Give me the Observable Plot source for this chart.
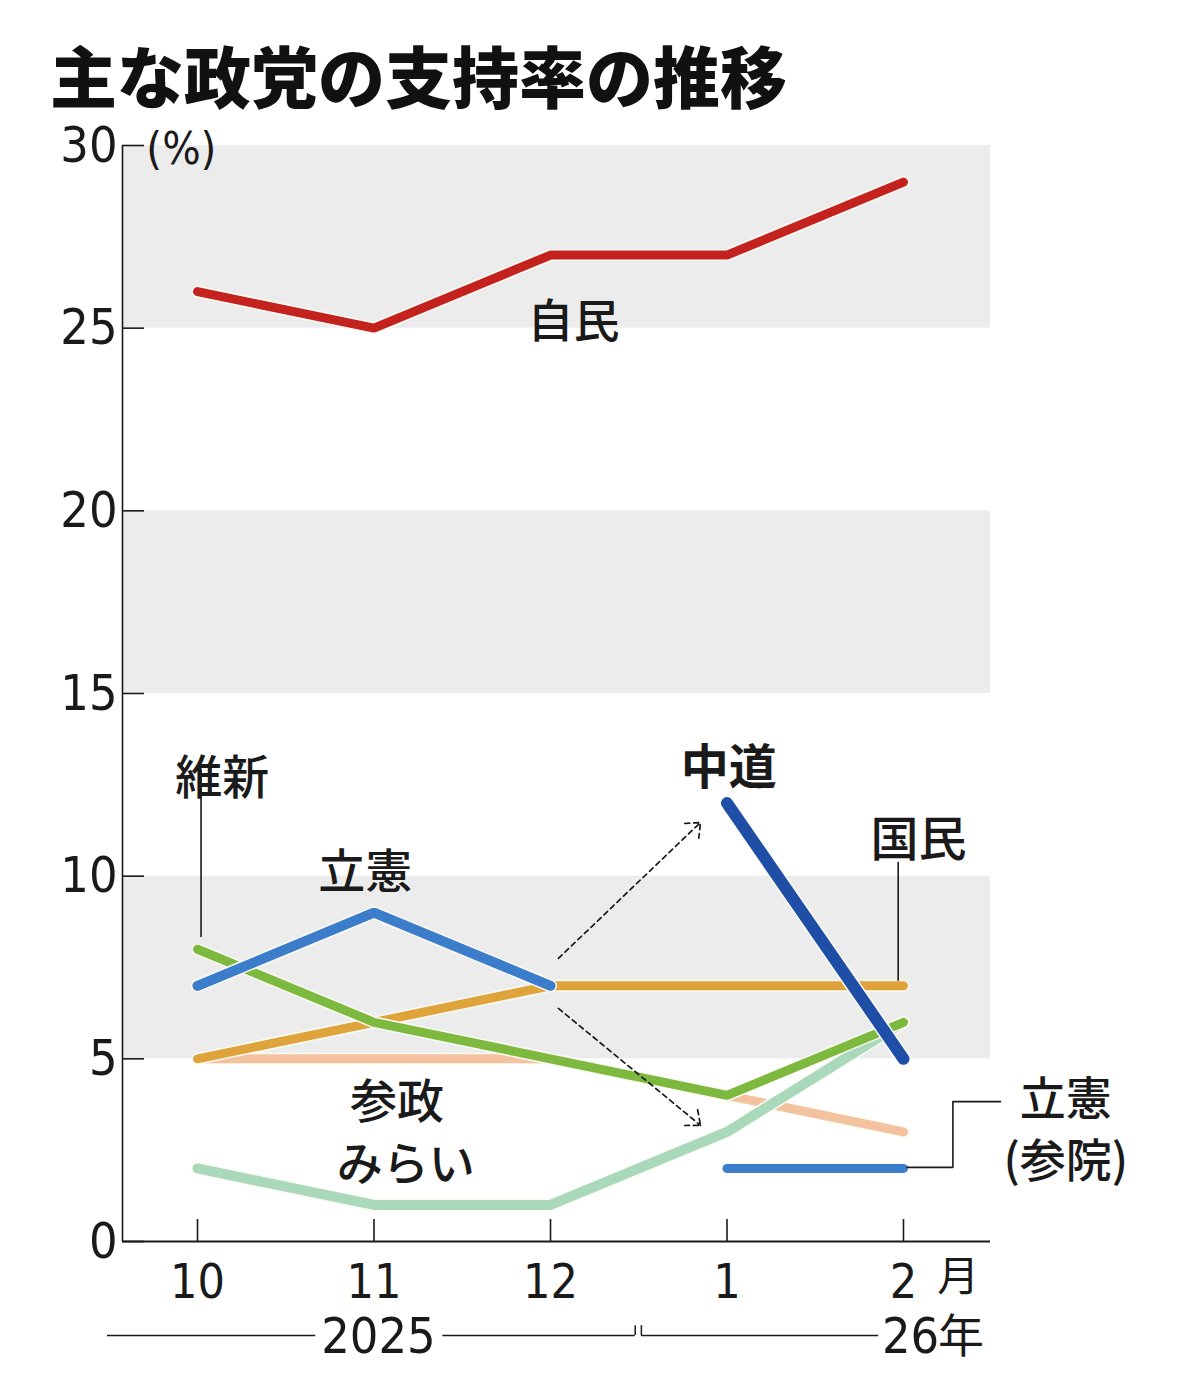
<!DOCTYPE html>
<html><head><meta charset="utf-8">
<script src="https://cdn.jsdelivr.net/npm/d3@7"></script>
<script src="https://cdn.jsdelivr.net/npm/@observablehq/plot@0.6"></script>
<style>
html,body{margin:0;padding:0;background:#fff;}
#wrap{position:relative;width:1200px;height:1396px;overflow:hidden;}
#title{position:absolute;left:50px;top:44px;font-family:"Noto Sans CJK JP",sans-serif;font-weight:900;font-size:67px;line-height:60px;height:60px;color:#111;white-space:nowrap;}
#chart{position:absolute;left:0;top:120px;}
</style></head>
<body><div id="wrap"><div id="title">主な政党の支持率の推移</div><div id="chart"></div></div>
<script>
// ---- data ----
const months = ["10", "11", "12", "1", "2"];
const jimin = [26, 25, 27, 27, 29];        // 自民
const kokumin = [5, 6, 7, 7, 7];           // 国民
const ishin = [8, 6, 5, 4, 6];             // 維新
const rikken = [7, 9, 7, null, null];      // 立憲
const sansei = [5, 5, 5, 4, 3];            // 参政
const mirai = [2, 1, 1, 3, 6];             // みらい
const chudo = [null, null, null, 12, 5];   // 中道
const rikkenSan = [null, null, null, 2, 2];// 立憲(参院)
const yTicks = [0, 5, 10, 15, 20, 25, 30];
const bandLo = [5, 15, 25];
const bandHi = [10, 20, 30];

// ---- build tables ----
const seriesDefs = [
  {name: "参政", values: sansei, color: "#f3c39f", w: 9},
  {name: "みらい", values: mirai, color: "#a9d8bb", w: 10},
  {name: "国民", values: kokumin, color: "#dea33a", w: 9},
  {name: "維新", values: ishin, color: "#7db83f", w: 9},
  {name: "立憲", values: rikken, color: "#3b7ccb", w: 10},
  {name: "自民", values: jimin, color: "#c3221f", w: 9},
  {name: "立憲(参院)", values: rikkenSan, color: "#3b7ccb", w: 9},
  {name: "中道", values: chudo, color: "#1f4ea6", w: 12}
];
const bands = bandLo.map((lo, i) => ({lo, hi: bandHi[i]}));

const labels = [
  {text: "自民", x: 2.13, y: 25.15, w: 500, s: 46},
  {text: "維新", x: 0.14, y: 12.67, w: 500, s: 47},
  {text: "立憲", x: 0.95, y: 10.1, w: 500, s: 47},
  {text: "中道", x: 3.01, y: 12.95, w: 700, s: 48},
  {text: "国民", x: 4.085, y: 10.98, w: 500, s: 48},
  {text: "参政", x: 1.13, y: 3.78, w: 500, s: 47},
  {text: "みらい", x: 1.18, y: 2.1, w: 500, s: 46},
  {text: "立憲", x: 4.92, y: 3.86, w: 500, s: 46},
  {text: "(参院)", x: 4.92, y: 2.16, w: 500, s: 46}
];
const leaders = [
  {id: "ishin", x: 0.02, y: 8.35}, {id: "ishin", x: 0.02, y: 12.9},
  {id: "kokumin", x: 3.97, y: 7.15}, {id: "kokumin", x: 3.97, y: 10.37},
  {id: "san", x: 4.02, y: 2.03}, {id: "san", x: 4.28, y: 2.03},
  {id: "san", x: 4.28, y: 3.83}, {id: "san", x: 4.55, y: 3.83}
];
const arrows = [
  {x1: 2.045, y1: 7.75, x2: 2.85, y2: 11.47},
  {x1: 2.045, y1: 6.38, x2: 2.85, y2: 3.18}
];
const yearSegs = [{x1: -0.51, x2: 0.67}, {x1: 1.39, x2: 2.48}, {x1: 2.515, x2: 3.86}];
const yearSeps = [2.48, 2.515];
const yearMid = [{text: "2025", x: 1.025}];
const yearEnd = [{text: "26", x: 4.04}];
const yearUnit = [{text: "年", x: 4.195}];

const xmin = -0.425, xmax = 4.493;
const numFont = "'Liberation Sans Narrow','DejaVu Sans Condensed','Arial Narrow','Noto Sans CJK JP',sans-serif";
const jpFont = "'Noto Sans CJK JP',sans-serif";
const ink = "#1a1a1a";

const marks = [];
marks.push(Plot.rect(bands, {y1: "lo", y2: "hi", fill: "#ececec"}));
// axes lines
marks.push(Plot.ruleX([xmin], {y1: 0, y2: 30, stroke: ink, strokeWidth: 1.6}));
marks.push(Plot.ruleY([0], {stroke: ink, strokeWidth: 2}));
marks.push(Plot.axisY({ticks: yTicks, tickSize: -22, tickPadding: 27, fontSize: 50,
  fontFamily: numFont, color: ink, strokeWidth: 1.6, label: null, className: "num"}));
marks.push(Plot.axisX({ticks: [0, 1, 2, 3, 4], tickSize: -22, tickPadding: 44,
  tickFormat: (d) => months[d], fontSize: 48, fontFamily: numFont, color: ink, strokeWidth: 1.6, label: null, className: "num"}));
marks.push(Plot.text(["月"], {x: 4.31, y: 0, dy: 36, text: (d) => d, fontSize: 42, fontFamily: jpFont, fill: ink}));
marks.push(Plot.text(["(%)"], {x: -0.29, y: 30, dy: 4, text: (d) => d, textAnchor: "start", fontSize: 45, fontFamily: numFont, fill: ink, className: "num"}));
// year row
marks.push(Plot.ruleY(yearSegs, {y: 0, x1: "x1", x2: "x2", dy: 94, stroke: ink, strokeWidth: 1.5}));
marks.push(Plot.ruleX(yearSeps, {y1: 0, y2: 0.27, dy: 94, stroke: ink, strokeWidth: 1.5}));
marks.push(Plot.text(yearMid, {x: "x", y: 0, dy: 95, text: "text", fontSize: 50, fontFamily: numFont, fill: ink, className: "num"}));
marks.push(Plot.text(yearEnd, {x: "x", y: 0, dy: 95, text: "text", textAnchor: "middle", fontSize: 50, fontFamily: numFont, fill: ink, className: "num"}));
marks.push(Plot.text(yearUnit, {x: "x", y: 0, dy: 96, text: "text", textAnchor: "start", fontSize: 46, fontFamily: jpFont, fill: ink}));

// series lines with light halo
for (const s of seriesDefs) {
  const rows = s.values.map((v, i) => ({x: i, y: v == null ? NaN : v}));
  marks.push(Plot.line(rows, {x: "x", y: "y", stroke: "#fbfbf4", strokeWidth: s.w + 3, strokeLinecap: "round", strokeLinejoin: "round"}));
  marks.push(Plot.line(rows, {x: "x", y: "y", stroke: s.color, strokeWidth: s.w, strokeLinecap: "round", strokeLinejoin: "miter"}));
}
// leaders and arrows
marks.push(Plot.line(leaders, {x: "x", y: "y", z: "id", stroke: ink, strokeWidth: 1.6, curve: "linear"}));
marks.push(Plot.arrow(arrows, {x1: "x1", y1: "y1", x2: "x2", y2: "y2", stroke: ink, strokeWidth: 1.7,
  strokeDasharray: "5,4", headLength: 14, headAngle: 80}));
// labels
for (const l of labels) {
  marks.push(Plot.text([l], {x: "x", y: "y", text: "text", fontSize: l.s, fontWeight: l.w, fontFamily: jpFont, fill: ink}));
}

const chart = Plot.plot({
  width: 1200, height: 1276,
  marginTop: 25, marginBottom: 155, marginLeft: 122, marginRight: 210,
  x: {domain: [xmin, xmax]},
  y: {domain: [0, 30]},
  style: {background: "transparent", overflow: "visible"},
  marks
});
document.getElementById("chart").appendChild(chart);
d3.select(chart).selectAll(".num text, text.num").style("font-stretch", "condensed");
</script></body></html>
